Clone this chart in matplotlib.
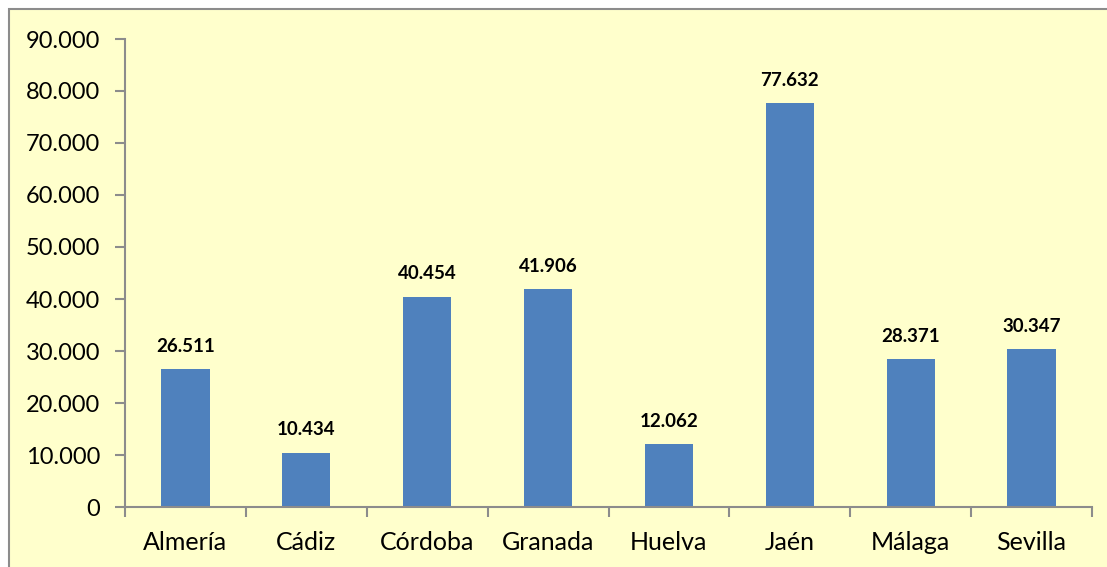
import matplotlib
matplotlib.use("Agg")
import matplotlib.pyplot as plt
from matplotlib.patches import Rectangle
from matplotlib.ticker import FuncFormatter, FixedLocator, NullFormatter
import numpy as np

# data
provincias = ['Almería', 'Cádiz', 'Córdoba', 'Granada', 'Huelva', 'Jaén', 'Málaga', 'Sevilla']
valores = [26511, 10434, 40454, 41906, 12062, 77632, 28371, 30347]

def miles(v):
    return f"{int(round(v)):,}".replace(",", ".")

plt.rcParams['font.family'] = ['Lato', 'DejaVu Sans']

fig = plt.figure(figsize=(11.07, 5.67), dpi=100)
fig.patch.set_facecolor('white')

# chart area frame
fw, fh = 1107, 567
frame = Rectangle((8.5 / fw, -0.1), 1.2, 1 - 8.5 / fh + 0.1, transform=fig.transFigure,
                  facecolor='#FFFFCC', edgecolor='#8C8C8C', linewidth=1.5, zorder=-10)
fig.patches.append(frame)

ax = fig.add_axes([125 / fw, 1 - 507 / fh, (1092 - 125) / fw, (507 - 39) / fh])
ax.set_facecolor('none')

x = np.arange(len(provincias))
bars = ax.bar(x, valores, width=0.4, color='#4F81BD', zorder=2)

for xi, v in zip(x, valores):
    ax.annotate(miles(v), (xi, v), xytext=(0, 10.5), textcoords='offset points',
                ha='center', va='bottom', fontsize=13.5, fontweight='bold', color='black')

ax.set_xlim(-0.5, len(provincias) - 0.5)
ax.set_ylim(0, 90000)
ax.set_yticks(np.arange(0, 90001, 10000))
ax.yaxis.set_major_formatter(FuncFormatter(lambda v, p: miles(v)))

ax.set_xticks(x)
ax.set_xticklabels(provincias)
ax.xaxis.set_minor_locator(FixedLocator(np.arange(-0.5, len(provincias), 1)))
ax.xaxis.set_minor_formatter(NullFormatter())
ax.tick_params(axis='x', which='major', length=0, pad=17, labelsize=18)
ax.tick_params(axis='x', which='minor', length=7, width=1.5, color='#8C8C8C')
ax.tick_params(axis='y', length=7, width=1.5, color='#8C8C8C', labelsize=17, pad=11)

for s in ['top', 'right']:
    ax.spines[s].set_visible(False)
for s in ['left', 'bottom']:
    ax.spines[s].set_color('#8C8C8C')
    ax.spines[s].set_linewidth(1.5)

plt.savefig('out.png', dpi=100)
